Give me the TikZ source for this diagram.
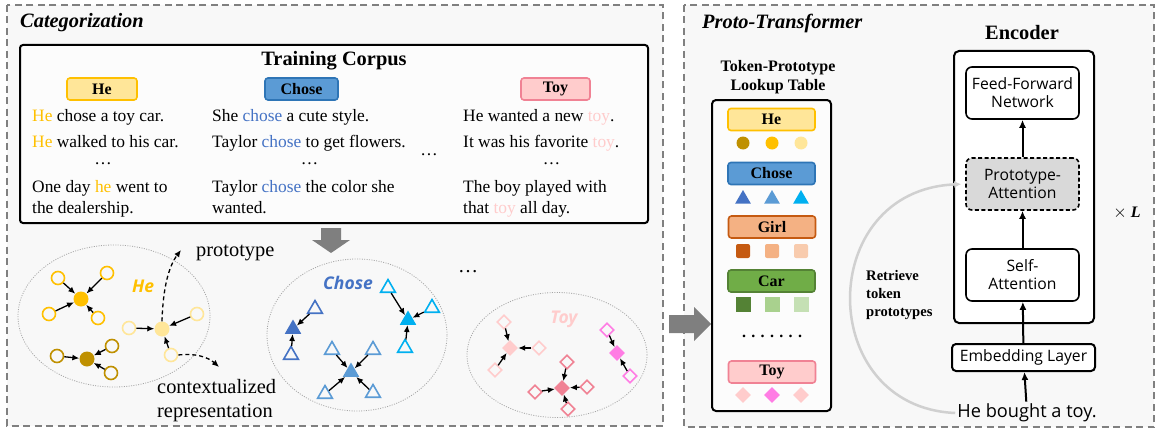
\documentclass[tikz,border=0pt]{standalone}
\usepackage{fontspec}
\setmainfont{Liberation Serif}
\newfontfamily\uifont{Open Sans}
\usetikzlibrary{shapes.geometric,arrows.meta}
\definecolor{panelbg}{RGB}{248, 248, 248}
\definecolor{panelline}{RGB}{128, 128, 128}
\definecolor{blockgray}{RGB}{127, 127, 127}
\definecolor{retrgray}{RGB}{208, 208, 208}
\definecolor{heGold}{RGB}{255, 192, 0}
\definecolor{heDark}{RGB}{191, 144, 0}
\definecolor{heLight}{RGB}{255, 230, 153}
\definecolor{choseDark}{RGB}{68, 114, 196}
\definecolor{choseMid}{RGB}{91, 155, 213}
\definecolor{choseCyan}{RGB}{0, 176, 240}
\definecolor{choseEdge}{RGB}{46, 117, 182}
\definecolor{toyLight}{RGB}{255, 204, 204}
\definecolor{toyRose}{RGB}{240, 130, 148}
\definecolor{toyMagenta}{RGB}{255, 125, 228}
\definecolor{girlDark}{RGB}{197, 90, 17}
\definecolor{girlMid}{RGB}{244, 177, 131}
\definecolor{girlLight}{RGB}{248, 203, 173}
\definecolor{carDark}{RGB}{84, 130, 53}
\definecolor{carMid}{RGB}{112, 173, 71}
\definecolor{carLight}{RGB}{169, 209, 142}
\definecolor{carPale}{RGB}{197, 224, 180}

\begin{document}
\begin{tikzpicture}[x=1pt, y=-1pt,
  panel/.style={draw=panelline, line width=1.8pt, dash pattern=on 7pt off 4.5pt, fill=panelbg},
  tagbox/.style={draw=#1, rounded corners=3pt, line width=1.6pt, minimum height=22pt, inner sep=0pt, font=\fontsize{16}{18}\selectfont\bfseries},
  sent/.style={anchor=base west, align=left, inner sep=0pt, font=\fontsize{17.4}{21}\selectfont},
  group/.style={ellipse, draw=gray!70, line width=0.8pt, dash pattern=on 1pt off 1.4pt, inner sep=0pt},
  grouplabel/.style={font=\uifont\fontsize{17.5}{20}\selectfont\bfseries\itshape},
  mem/.style={circle, draw=#1, fill=panelbg, line width=1.6pt, minimum size=13pt, inner sep=0pt},
  pro/.style={circle, fill=#1, minimum size=15pt, inner sep=0pt},
  tmem/.style={regular polygon, regular polygon sides=3, draw=#1, fill=panelbg, line width=1.6pt, minimum size=17pt, inner sep=0pt},
  tpro/.style={regular polygon, regular polygon sides=3, fill=#1, minimum size=19pt, inner sep=0pt},
  dmem/.style={diamond, draw=#1, fill=panelbg, line width=1.6pt, minimum size=14pt, inner sep=0pt},
  dpro/.style={diamond, fill=#1, minimum size=16pt, inner sep=0pt},
  link/.style={-{Latex[length=7pt,width=6pt]}, line width=1.3pt},
  hint/.style={-{Latex[length=7pt,width=6pt]}, line width=1.3pt, dash pattern=on 4pt off 3pt},
  layer/.style={draw, rounded corners=6pt, line width=1.6pt, fill=white, minimum width=113pt, minimum height=52pt, align=center, inner sep=0pt, font=\uifont\fontsize{15.7}{18}\selectfont},
  flow/.style={-{Latex[length=8pt,width=7pt]}, line width=2pt}]
\useasboundingbox (0,0) rectangle (1156,428);

% Panels
\draw[panel] (7,5) rectangle (663,426);
\draw[panel] (684,5) rectangle (1154,427);
\node[anchor=west, inner sep=0pt, font=\fontsize{20.4}{24}\selectfont\bfseries\itshape] (cattitle) at (20,23) {Categorization};
\node[anchor=west, inner sep=0pt, font=\fontsize{20.4}{24}\selectfont\bfseries\itshape] (pttitle) at (702,23) {Proto-Transformer};

% Training corpus
\node[draw, rounded corners=3pt, line width=2pt, fill=white!60!panelbg, minimum width=628pt, minimum height=178pt] (corpus) at (334,134) {};
\node[font=\fontsize{20.4}{24}\selectfont\bfseries] (corpustitle) at (334,61) {Training Corpus};
\node[tagbox=heGold, fill=heLight, minimum width=70pt] (tagHe) at (102,89) {He};
\node[tagbox=choseEdge, fill=choseMid, minimum width=73pt] (tagChose) at (301.5,89) {Chose};
\node[tagbox=toyRose, fill=toyLight, minimum width=69pt] (tagToy) at (555.5,89) {Toy};

\node[sent] (he1) at (32,121) {\textcolor{heGold}{He} chose a toy car.};
\node[sent] (he2) at (32,147) {\textcolor{heGold}{He} walked to his car.};
\node[sent] (he3) at (32,213) {One day \textcolor{heGold}{he} went to\\the dealership.};
\node[sent] (ch1) at (212,121) {She \textcolor{choseDark}{chose} a cute style.};
\node[sent] (ch2) at (212,147) {Taylor \textcolor{choseDark}{chose} to get flowers.};
\node[sent] (ch3) at (212,213) {Taylor \textcolor{choseDark}{chose} the color she\\wanted.};
\node[sent] (ty1) at (463,121) {He wanted a new \textcolor{toyLight}{toy}.};
\node[sent] (ty2) at (463,147) {It was his favorite \textcolor{toyLight}{toy}.};
\node[sent] (ty3) at (463,213) {The boy played with\\that \textcolor{toyLight}{toy} all day.};
\node[font=\fontsize{17.4}{21}\selectfont, inner sep=0pt] (heDots) at (103,164) {\ldots};
\node[font=\fontsize{17.4}{21}\selectfont, inner sep=0pt] (chDots) at (309.5,164) {\ldots};
\node[font=\fontsize{17.4}{21}\selectfont, inner sep=0pt] (tyDots) at (551.5,164) {\ldots};
\node[font=\fontsize{17.4}{21}\selectfont, inner sep=0pt] (midDots) at (429,155) {\ldots};

% Block arrows
\fill[blockgray] (321,228) -- (341,228) -- (341,240) -- (350,240) -- (331,253) -- (312,240) -- (321,240) -- cycle;
\fill[blockgray] (669,315) -- (694,315) -- (694,307) -- (711,324) -- (694,341) -- (694,333) -- (669,333) -- cycle;

% He cluster
\node[group, minimum width=192pt, minimum height=142pt] (heGroup) at (114,316) {};
\node[grouplabel, text=heGold] (heLabel) at (143,286) {He};
\node[pro=heGold] (heP1) at (81,299) {};
\node[mem=heGold] (heP1a) at (58,278) {};
\node[mem=heGold] (heP1b) at (107,273) {};
\node[mem=heGold] (heP1c) at (49,314) {};
\node[mem=heGold] (heP1d) at (98,318) {};
\node[pro=heDark] (heP2) at (87,359) {};
\node[mem=heDark] (heP2a) at (57,356) {};
\node[mem=heDark] (heP2b) at (112,346) {};
\node[mem=heDark] (heP2c) at (111,373) {};
\node[pro=heLight] (heP3) at (162,329) {};
\node[mem=heLight] (heP3a) at (129,328) {};
\node[mem=heLight] (heP3b) at (197,314) {};
\node[mem=heLight] (heP3c) at (171,355) {};
\draw[link] (heP1a) -- (heP1);
\draw[link] (heP1b) -- (heP1);
\draw[link] (heP1c) -- (heP1);
\draw[link] (heP1d) -- (heP1);
\draw[link] (heP2a) -- (heP2);
\draw[link] (heP2b) -- (heP2);
\draw[link] (heP2c) -- (heP2);
\draw[link] (heP3a) -- (heP3);
\draw[link] (heP3b) -- (heP3);
\draw[link] (heP3c) -- (heP3);

% Annotations
\coordinate (protoTip) at (181,250);
\coordinate (ctxTip) at (219,367);
\draw[hint] (heP3.north) .. controls (163,287) and (169,266) .. (protoTip);
\draw[hint] (heP3c.east) .. controls (195,353) and (208,357) .. (ctxTip);
\node[anchor=base west, inner sep=0pt, font=\fontsize{20.4}{24}\selectfont] (protoText) at (196,256) {prototype};
\node[anchor=base west, align=left, inner sep=0pt, font=\fontsize{20.4}{24}\selectfont] (ctxText) at (157,417) {contextualized\\representation};

% Chose cluster
\node[group, minimum width=180pt, minimum height=152pt] (chGroup) at (357,335) {};
\node[grouplabel, text=choseDark] (chLabel) at (348,283) {Chose};
\node[tpro=choseDark] (chP1) at (293,329) {};
\node[tmem=choseDark] (chP1a) at (315,309) {};
\node[tmem=choseDark] (chP1b) at (291,355) {};
\node[tpro=choseMid] (chP2) at (351,372) {};
\node[tmem=choseMid] (chP2a) at (332,350) {};
\node[tmem=choseMid] (chP2b) at (373,350) {};
\node[tmem=choseMid] (chP2c) at (325,394) {};
\node[tmem=choseMid] (chP2d) at (373,393) {};
\node[tpro=choseCyan] (chP3) at (408,320) {};
\node[tmem=choseCyan] (chP3a) at (388,288) {};
\node[tmem=choseCyan] (chP3b) at (432,308) {};
\node[tmem=choseCyan] (chP3c) at (405,348) {};
\draw[link] (chP1a) -- (chP1);
\draw[link] (chP1b) -- (chP1);
\draw[link] (chP2a) -- (chP2);
\draw[link] (chP2b) -- (chP2);
\draw[link] (chP2c) -- (chP2);
\draw[link] (chP2d) -- (chP2);
\draw[link] (chP3a) -- (chP3);
\draw[link] (chP3b) -- (chP3);
\draw[link] (chP3c) -- (chP3);
\node[font=\fontsize{20}{24}\selectfont, inner sep=0pt] (groupDots) at (468,272) {\ldots};

% Toy cluster
\node[group, minimum width=180pt, minimum height=125pt] (tyGroup) at (557,355) {};
\node[grouplabel, text=toyLight] (tyLabel) at (564,319) {Toy};
\node[dpro=toyLight] (tyP1) at (510,348) {};
\node[dmem=toyLight] (tyP1a) at (504,322) {};
\node[dmem=toyLight] (tyP1b) at (539,348) {};
\node[dmem=toyLight] (tyP1c) at (495,370) {};
\node[dpro=toyRose] (tyP2) at (562,388) {};
\node[dmem=toyRose] (tyP2a) at (567,362) {};
\node[dmem=toyRose] (tyP2b) at (535,392) {};
\node[dmem=toyRose] (tyP2c) at (587,387) {};
\node[dmem=toyRose] (tyP2d) at (568,409) {};
\node[dpro=toyMagenta] (tyP3) at (617,353) {};
\node[dmem=toyMagenta] (tyP3a) at (607,330) {};
\node[dmem=toyMagenta] (tyP3b) at (630,376) {};
\draw[link] (tyP1a) -- (tyP1);
\draw[link] (tyP1b) -- (tyP1);
\draw[link] (tyP1c) -- (tyP1);
\draw[link] (tyP2a) -- (tyP2);
\draw[link] (tyP2b) -- (tyP2);
\draw[link] (tyP2c) -- (tyP2);
\draw[link] (tyP2d) -- (tyP2);
\draw[link] (tyP3a) -- (tyP3);
\draw[link] (tyP3b) -- (tyP3);

% Lookup table
\node[align=center, font=\fontsize{16}{19}\selectfont\bfseries] (tableTitle) at (778,77) {Token-Prototype\\Lookup Table};
\node[draw, rounded corners=4pt, line width=2pt, fill=white!60!panelbg, minimum width=119pt, minimum height=311pt] (lookup) at (771.5,255.5) {};
\node[tagbox=heGold, fill=heLight, minimum width=87pt] (rowHe) at (771.5,119.5) {He};
\node[circle, fill=heDark, minimum size=13pt, inner sep=0pt] (heS1) at (743,143) {};
\node[circle, fill=heGold, minimum size=13pt, inner sep=0pt] (heS2) at (772,143) {};
\node[circle, fill=heLight, minimum size=13pt, inner sep=0pt] (heS3) at (801,143) {};
\node[tagbox=choseEdge, fill=choseMid, minimum width=87pt] (rowChose) at (771.5,173.5) {Chose};
\node[tpro=choseDark, minimum size=18pt] (chS1) at (743,199) {};
\node[tpro=choseMid, minimum size=18pt] (chS2) at (772,199) {};
\node[tpro=choseCyan, minimum size=18pt] (chS3) at (801,199) {};
\node[tagbox=girlDark, fill=girlMid, minimum width=87pt] (rowGirl) at (772,227) {Girl};
\node[fill=girlDark, rounded corners=2pt, minimum size=14pt, inner sep=0pt] (giS1) at (743,251) {};
\node[fill=girlMid, rounded corners=2pt, minimum size=14pt, inner sep=0pt] (giS2) at (772,251) {};
\node[fill=girlLight, rounded corners=2pt, minimum size=14pt, inner sep=0pt] (giS3) at (801,251) {};
\node[tagbox=carDark, fill=carMid, minimum width=87pt] (rowCar) at (771.5,281) {Car};
\node[fill=carDark, minimum size=15pt, inner sep=0pt] (caS1) at (743,304) {};
\node[fill=carLight, minimum size=15pt, inner sep=0pt] (caS2) at (772,304) {};
\node[fill=carPale, minimum size=15pt, inner sep=0pt] (caS3) at (801,304) {};
\node[font=\fontsize{16}{18}\selectfont\bfseries, inner sep=0pt] (rowDots) at (772,336) {. . . . . . .};
\node[tagbox=toyRose, fill=toyLight, minimum width=87pt] (rowToy) at (772,372) {Toy};
\node[dpro=toyLight] (tyS1) at (743,395) {};
\node[dpro=toyMagenta] (tyS2) at (772,395) {};
\node[dpro=toyLight] (tyS3) at (801,395) {};

% Encoder
\node[font=\fontsize{20.4}{24}\selectfont\bfseries] (encTitle) at (1022,33) {Encoder};
\node[draw, rounded corners=5pt, line width=2pt, fill=white, minimum width=140pt, minimum height=272pt] (encoder) at (1024,187) {};
\node[layer] (ffn) at (1022.5,93) {Feed-Forward\\Network};
\node[layer, fill=gray!30, dash pattern=on 4pt off 2.5pt] (protoAttn) at (1022.5,184) {Prototype-\\Attention};
\node[layer] (selfAttn) at (1022.5,275) {Self-\\Attention};
\node[draw, rounded corners=4pt, line width=2pt, fill=white, minimum width=143pt, minimum height=27pt, inner sep=0pt, font=\uifont\fontsize{15.7}{18}\selectfont] (embed) at (1023.5,357.5) {Embedding Layer};
\node[inner sep=2pt, font=\uifont\fontsize{18.2}{22}\selectfont] (input) at (1027,413) {He bought a toy.};
\node[font=\fontsize{16}{18}\selectfont] (times) at (1127,213) {$\times$ \textbf{\textit{L}}};
\draw[flow] (input) -- (embed);
\draw[flow] (embed) -- (selfAttn);
\draw[flow] (selfAttn) -- (protoAttn);
\draw[flow] (protoAttn) -- (ffn);

% Retrieval
\draw[retrgray, line width=2.5pt, -{Latex[length=7pt,width=7pt]}, shorten >=4pt] (input.west) .. controls (815,407) and (815,190) .. (protoAttn.west);
\node[anchor=west, align=left, inner sep=0pt, font=\fontsize{14.6}{18}\selectfont\bfseries] (retrText) at (866,295) {Retrieve\\token\\prototypes};
\end{tikzpicture}
\end{document}
